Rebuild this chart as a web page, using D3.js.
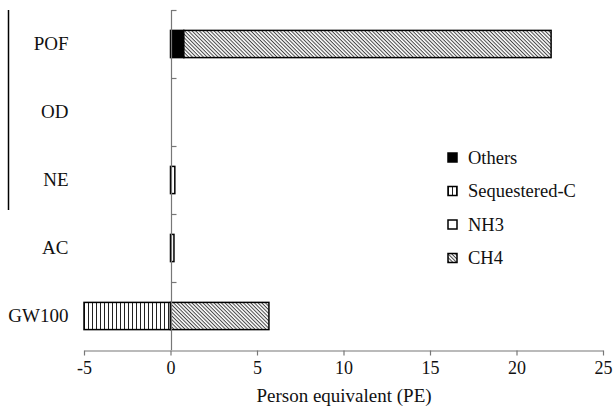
<!DOCTYPE html>
<html><head><meta charset="utf-8">
<script src="https://cdn.jsdelivr.net/npm/d3@7"></script>
<style>
body{margin:0;background:#fff;}
svg text{font-family:"Liberation Serif","Times New Roman",Times,serif !important;fill:#111;}
</style></head>
<body>
<svg id="chart" width="614" height="411"></svg>
<script>
const categories = ["POF", "OD", "NE", "AC", "GW100"];
const others      = [0.77, 0, 0, 0, 0];
const sequesteredC= [0, 0, 0, 0, -5];
const nh3         = [0, 0, 0.25, 0.2, 0];
const ch4         = [21.23, 0, 0, 0, 5.69];
const seriesNames = ["Others", "Sequestered-C", "NH3", "CH4"];
const xTicks = [-5, 0, 5, 10, 15, 20, 25];
const xTitle = "Person equivalent (PE)";
const SERIF = "Liberation Serif";

const rows = categories.map((c, i) => ({cat: c, "Others": others[i], "Sequestered-C": sequesteredC[i], "NH3": nh3[i], "CH4": ch4[i]}));

const svg = d3.select("#chart");
const defs = svg.append("defs");
const pv = defs.append("pattern").attr("id","pVert").attr("patternUnits","userSpaceOnUse").attr("width",4).attr("height",4);
pv.append("rect").attr("width",4).attr("height",4).attr("fill","#fff");
pv.append("line").attr("x1",0.5).attr("x2",0.5).attr("y1",0).attr("y2",4).attr("stroke","#222").attr("stroke-width",1);
const pd = defs.append("pattern").attr("id","pDiag").attr("patternUnits","userSpaceOnUse").attr("width",2.6).attr("height",2.6)
  .attr("patternTransform","rotate(45)");
pd.append("rect").attr("width",2.6).attr("height",2.6).attr("fill","#fff");
pd.append("line").attr("x1",0).attr("x2",2.6).attr("y1",0.5).attr("y2",0.5).attr("stroke","#444").attr("stroke-width",1);

const fills = {"Others":"#000", "Sequestered-C":"url(#pVert)", "NH3":"#fff", "CH4":"url(#pDiag)"};

const x = d3.scaleLinear().domain([-5, 25]).range([84, 603]);
const y = d3.scaleBand().domain(categories).range([10, 350]).paddingInner(0.6).paddingOuter(0.3);

const stack = d3.stack().keys(seriesNames).offset(d3.stackOffsetDiverging);
const stacked = stack(rows);

svg.append("line").attr("x1",8.5).attr("x2",8.5).attr("y1",10).attr("y2",210).attr("stroke","#000").attr("stroke-width",1.5);

stacked.forEach(s => {
  svg.append("g").selectAll("rect").data(s.filter(d => d[1] - d[0] !== 0)).join("rect")
    .attr("x", d => x(Math.min(d[0], d[1])))
    .attr("width", d => Math.abs(x(d[1]) - x(d[0])))
    .attr("y", d => y(d.data.cat))
    .attr("height", y.bandwidth())
    .attr("fill", fills[s.key])
    .attr("stroke", "#000").attr("stroke-width", 1.5);
});

const gy = svg.append("g");
const x0 = Math.round(x(0)) + 0.5;
gy.append("line").attr("x1",x0).attr("x2",x0).attr("y1",10).attr("y2",350).attr("stroke","#777").attr("stroke-width",1.2);
const step = y.step();
const bounds = categories.map(c => y(c) - step * y.paddingInner() / 2);
gy.selectAll("line.tk").data(bounds).join("line").attr("class","tk")
  .attr("x1", x0).attr("x2", x0 + 5).attr("y1", d => Math.round(d) + 0.5).attr("y2", d => Math.round(d) + 0.5)
  .attr("stroke","#777").attr("stroke-width",1.2);
const yAxis = svg.append("g").attr("transform", `translate(${x0},0)`)
  .call(d3.axisLeft(y).tickSize(0).tickPadding(103));
yAxis.attr("font-family", SERIF).attr("font-size", 19);
yAxis.select(".domain").remove();
yAxis.selectAll("text").attr("font-family", SERIF).attr("font-size", 19).attr("fill","#111");

const xAxis = svg.append("g").attr("transform","translate(0,350.5)")
  .call(d3.axisBottom(x).tickValues(xTicks).tickFormat(d => String(d)).tickSize(5).tickSizeOuter(0).tickPadding(6));
xAxis.attr("font-family", SERIF).attr("font-size", 18);
xAxis.select(".domain").attr("stroke","#777").attr("stroke-width",1.2);
xAxis.selectAll(".tick line").attr("stroke","#777").attr("stroke-width",1.2);
xAxis.selectAll("text").attr("font-family", SERIF).attr("font-size", 18).attr("fill","#111");

svg.append("text").attr("x", 344).attr("y", 402).attr("text-anchor","middle")
  .attr("font-family", SERIF).attr("font-size", 19).text(xTitle);

const lg = svg.append("g");
seriesNames.forEach((k, i) => {
  const yy = 153 + i * 33.5;
  lg.append("rect").attr("x", 448).attr("y", yy).attr("width", 9).attr("height", 9)
    .attr("fill", fills[k]).attr("stroke", "#000").attr("stroke-width", 1.5);
  lg.append("text").attr("x", 468).attr("y", yy + 10.5)
    .attr("font-family", SERIF).attr("font-size", 18.5).text(k);
});
</script>
</body></html>
